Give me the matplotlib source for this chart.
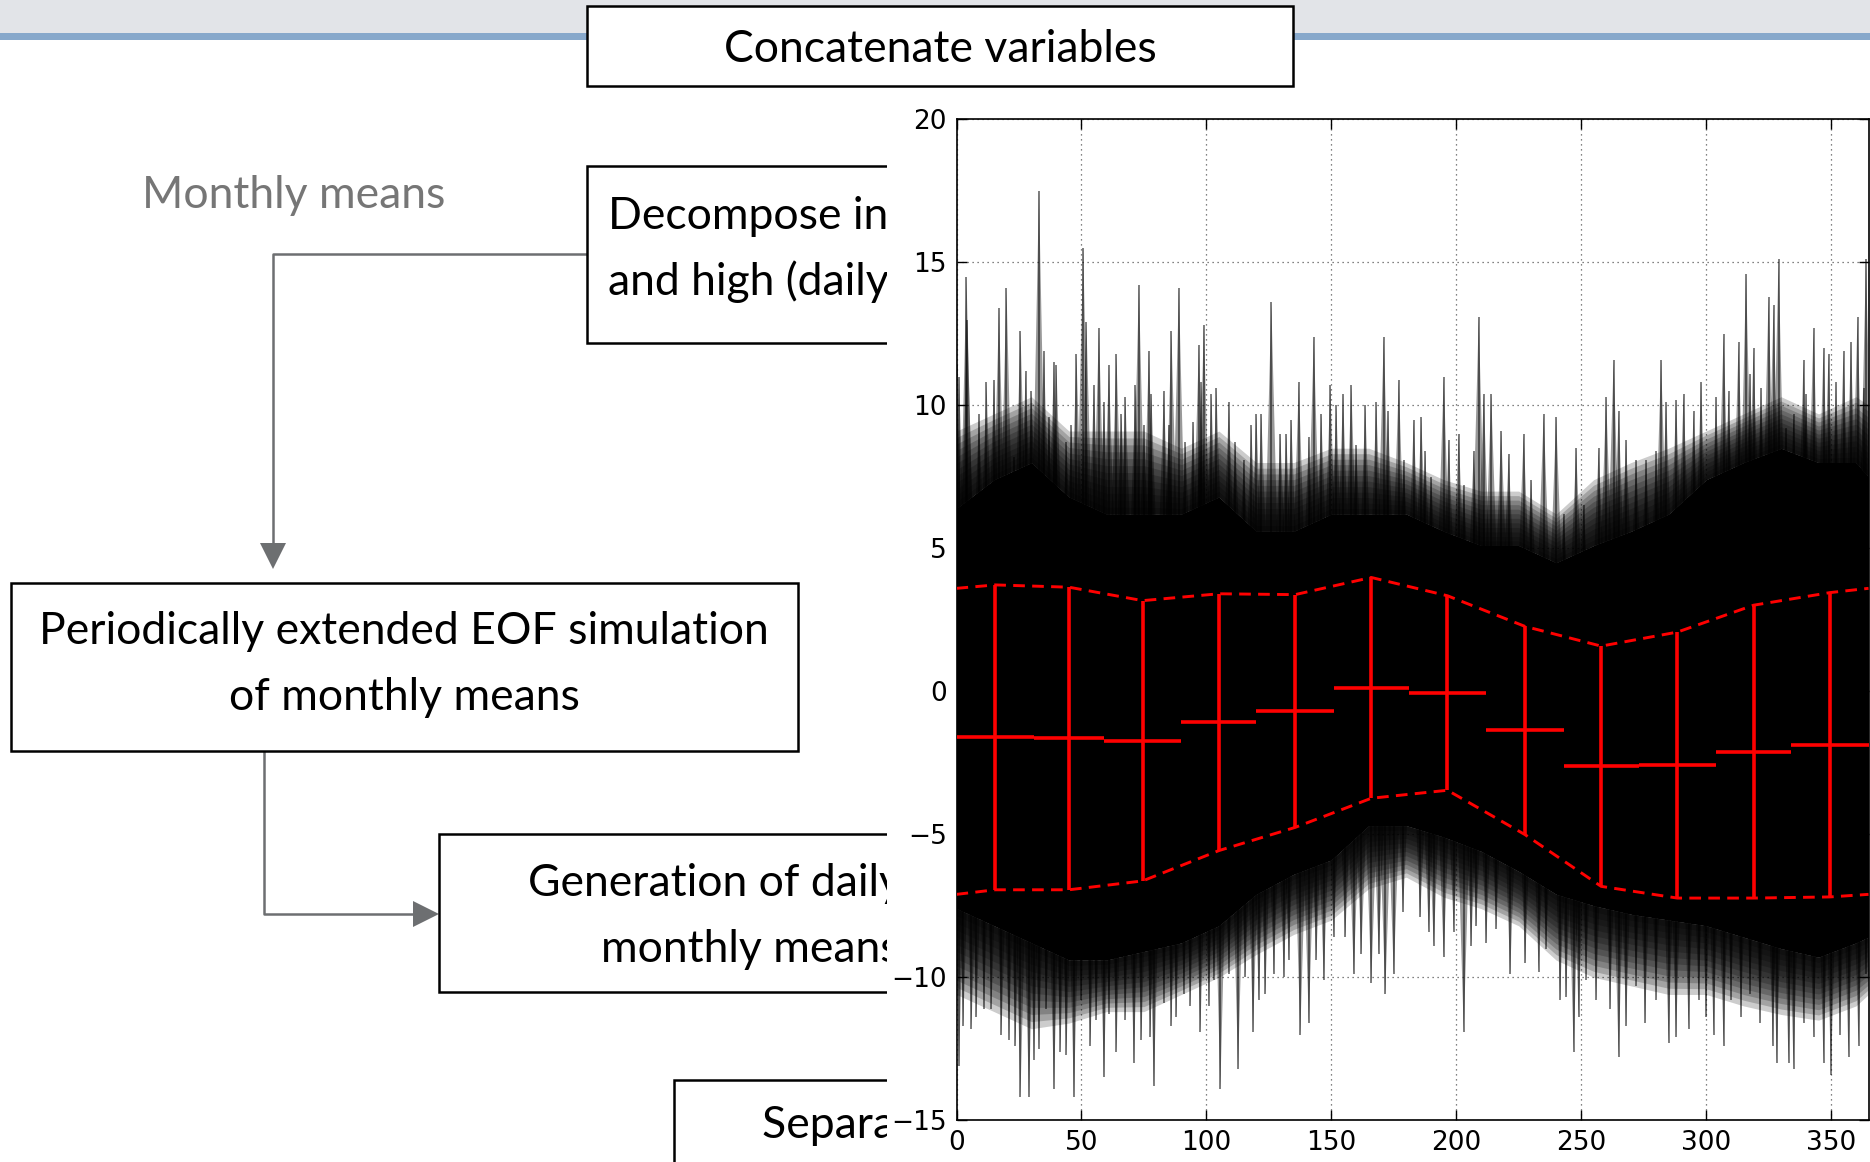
import matplotlib
matplotlib.use('Agg')
import matplotlib.pyplot as plt
from matplotlib.patches import Rectangle, Polygon
from matplotlib.collections import PolyCollection

W, H = 1870, 1162

# monthly statistics (red error bars)
month_edges = [0, 31, 59, 90, 120, 151, 181, 212, 243, 273, 304, 334, 365]
month_mean = [-1.61, -1.65, -1.73, -1.08, -0.69, 0.12, -0.06, -1.37, -2.62, -2.58, -2.11, -1.87]
month_err = [5.33, 5.29, 4.90, 4.49, 4.07, 3.86, 3.40, 3.64, 4.20, 4.65, 5.12, 5.32]
year_edge_upper = 3.6
year_edge_lower = -7.1

# envelope of the dense black mass of daily series
env_days = [0, 15, 30, 45, 60, 75, 90, 105, 120, 135, 150, 165, 180,
            195, 210, 225, 240, 255, 270, 285, 300, 315, 330, 345, 360, 365]
core_hi = [6.4, 7.4, 8.0, 6.8, 6.2, 6.2, 6.2, 6.8, 5.6, 5.6, 6.2, 6.2, 6.2,
           5.6, 5.1, 5.1, 4.5, 5.1, 5.6, 6.2, 7.4, 8.0, 8.5, 8.0, 8.0, 7.5]
haze_hi = [9.1, 9.7, 10.3, 9.1, 9.1, 9.1, 8.5, 9.1, 8.0, 8.0, 8.5, 8.5, 8.0,
           7.4, 7.0, 7.0, 6.2, 7.4, 8.0, 8.5, 9.1, 9.7, 10.3, 9.7, 10.3, 10.0]
core_lo = [-7.6, -8.2, -8.8, -9.4, -9.4, -9.1, -8.8, -8.2, -7.1, -6.4, -5.9, -4.7, -4.7,
           -5.1, -5.6, -6.3, -7.1, -7.5, -7.8, -8.0, -8.2, -8.6, -9.0, -9.3, -8.8, -8.6]
haze_lo = [-10.6, -11.2, -11.8, -11.6, -11.2, -11.2, -10.6, -10.0, -9.2, -8.5, -8.0, -6.9, -6.5,
           -7.2, -7.6, -8.2, -9.4, -10.0, -10.3, -10.6, -10.6, -11.0, -11.3, -11.5, -11.0, -10.6]

# individual spikes standing out of the mass
up_days = [0, 1, 4, 4.3, 9, 12, 15, 17, 20, 23, 25.6, 27.7, 30, 33, 35, 37, 39, 40, 44, 46,
           48, 50.7, 52, 55, 57, 59, 61, 64, 66, 67.6, 71.6, 73, 75, 77, 78, 83, 85, 86, 89, 91.6,
           94.7, 97, 98, 99, 102, 104, 109, 111.6, 115, 118, 120, 122, 126, 129.6, 132, 134, 137,
           141, 143, 146, 149.6, 152, 154.7, 158, 160, 163.6, 168, 171, 172.7, 177, 179, 183, 186,
           187.6, 190, 195, 197, 201, 203, 207, 209, 211, 214, 218, 221, 227, 230, 235, 240, 243,
           248, 251, 257, 260, 263, 265, 268, 272, 276, 280, 282, 284, 288, 291, 295, 298, 304,
           307, 309, 313, 316, 317.6, 319, 322, 325, 327, 329, 332, 335, 339, 340, 343, 347, 349,
           352, 355, 358, 360.6, 363, 364]
up_peaks = [11.4, 11.0, 14.5, 13.0, 9.7, 10.8, 10.9, 13.4, 14.1, 8.2, 12.6, 11.2, 10.5, 17.5, 11.9,
            9.6, 11.5, 11.4, 8.7, 9.3, 11.8, 15.5, 12.9, 10.7, 12.7, 10.1, 11.4, 11.8, 9.7, 10.3,
            10.7, 14.2, 9.3, 11.9, 10.4, 10.5, 9.3, 12.6, 14.1, 8.7, 9.4, 12.1, 10.8, 12.8, 10.4,
            10.6, 10.1, 8.7, 8.1, 9.3, 9.7, 9.7, 13.6, 9.0, 9.0, 9.5, 10.8, 8.9, 12.4, 9.7, 10.7,
            10.0, 10.4, 10.7, 8.6, 10.0, 10.1, 12.4, 9.8, 10.9, 8.1, 9.5, 9.6, 8.4, 7.5, 11.0, 8.8,
            9.0, 7.2, 8.4, 13.1, 10.4, 10.4, 9.1, 8.3, 9.0, 7.4, 9.7, 9.6, 6.2, 8.5, 6.5, 8.5, 10.3,
            11.6, 9.8, 8.8, 8.1, 8.1, 8.4, 11.6, 10.1, 10.2, 10.4, 9.8, 10.8, 10.3, 12.5, 10.5, 12.2,
            14.6, 11.1, 12.0, 10.6, 13.8, 13.5, 15.1, 9.2, 9.7, 11.6, 10.4, 12.7, 12.0, 11.8, 10.8,
            11.9, 12.2, 13.1, 10.6, 15.1]
dn_days = [1, 2.7, 6, 8, 11, 14, 18, 21, 23.6, 25.6, 29, 31, 33, 36, 39, 41.6, 44, 47, 50, 53.6,
           56, 59, 61, 64, 67.6, 71, 74, 77.6, 79, 83, 86, 88, 91, 93.6, 97.6, 101, 103, 105.6,
           109, 112.7, 115.6, 118.7, 121, 123.6, 127, 131, 133, 137.6, 141, 144, 147, 151, 155.6,
           159, 162, 166, 169, 171.6, 175, 178.7, 185.6, 189, 191, 195, 199, 203, 206, 208, 212,
           216, 221.6, 227.6, 233, 236, 241.6, 244, 247, 249, 252, 256, 261.6, 265, 268, 272,
           275.6, 280, 285, 288, 293, 297, 300, 303, 307, 310, 314, 317.6, 321.6, 326.7, 328.3,
           333, 335, 339, 343, 347, 350, 353.6, 357, 361, 364]
dn_troughs = [-13.1, -11.7, -11.8, -11.4, -11.1, -11.1, -12.0, -12.2, -12.4, -14.2, -14.2, -12.9,
              -12.5, -11.1, -13.9, -12.6, -12.7, -14.2, -10.8, -12.4, -11.5, -13.5, -11.3, -12.6,
              -11.5, -13.0, -12.2, -12.1, -13.8, -10.9, -11.7, -11.4, -10.6, -11.0, -11.9, -11.0,
              -10.1, -13.9, -9.9, -13.2, -10.0, -11.9, -10.8, -10.6, -9.9, -10.0, -9.4, -12.0,
              -11.6, -9.4, -10.1, -8.6, -8.6, -9.9, -9.2, -10.2, -9.2, -10.6, -9.9, -7.7, -7.9,
              -8.4, -8.9, -9.3, -8.4, -11.9, -8.9, -8.2, -8.8, -8.3, -9.9, -9.5, -9.8, -9.0, -10.8,
              -10.7, -12.6, -11.4, -10.1, -10.8, -11.1, -12.8, -11.7, -10.3, -11.6, -10.8, -12.3,
              -12.1, -11.8, -10.8, -11.4, -12.0, -12.4, -10.8, -11.4, -10.6, -11.6, -12.4, -13.0,
              -13.0, -13.2, -11.6, -12.1, -13.0, -13.4, -12.0, -12.8, -12.4, -9.9]

fig = plt.figure(figsize=(W / 100, H / 100), dpi=100)

# ---- slide in the background (pixel coordinates) ----
ax0 = fig.add_axes([0, 0, 1, 1])
ax0.set_xlim(0, W)
ax0.set_ylim(H, 0)
ax0.axis('off')

ax0.add_patch(Rectangle((0, 0), W, 34, color='#e2e4e8', lw=0))
ax0.add_patch(Rectangle((0, 33), W, 7, color='#87a8cb', lw=0))

slide_font = 'Lato'
fs = 32
grey = '#6d6f71'
dy = 4   # Lato sits a little high with va='center'


def box(x0, y0, x1, y1):
    ax0.add_patch(Rectangle((x0, y0), x1 - x0, y1 - y0, fc='white', ec='black', lw=1.8, zorder=3))


def label(x, y, s, ha='left', color='black'):
    ax0.text(x, y + dy, s, ha=ha, va='center', fontsize=fs, family=slide_font, color=color, zorder=4)


box(587, 6, 1293, 86)
label(940, 46, 'Concatenate variables', ha='center')

label(294, 191, 'Monthly means', ha='center', color='#767676')

box(587, 166, 1150, 343)
label(608, 212, 'Decompose into low (monthly)')
label(608, 278, 'and high (daily) frequencies')

box(11, 583, 798, 751)
label(404, 628, 'Periodically extended EOF simulation', ha='center')
label(404, 694, 'of monthly means', ha='center')

box(439, 834, 1150, 992)
label(528, 879, 'Generation of daily values from')
label(601, 945, 'monthly means')

box(674, 1080, 1150, 1200)
label(762, 1121, 'Separate variables')

# connectors
ax0.plot([587, 273, 273], [254, 254, 545], color=grey, lw=1.8, zorder=2)
ax0.add_patch(Polygon([[260, 543], [286, 543], [273, 569]], closed=True, color=grey, lw=0))
ax0.plot([264, 264, 415], [751, 914, 914], color=grey, lw=1.8, zorder=2)
ax0.add_patch(Polygon([[413, 901], [413, 927], [439, 914]], closed=True, color=grey, lw=0))

# white backdrop of the pasted plot
ax0.add_patch(Rectangle((887, 88), W - 887, H - 88, color='white', lw=0, zorder=10))

# ---- the plot ----
left, right, top, bottom = 956.5, 1868.5, 119.3, 1120.3
ax = fig.add_axes([left / W, 1 - bottom / H, (right - left) / W, (bottom - top) / H])
ax.set_zorder(2)

# fringe of the mass fades outwards
n_layers = 12
for k in range(1, n_layers + 1):
    f = k / n_layers
    hi = [c + (h - c) * f for c, h in zip(core_hi, haze_hi)]
    lo = [c + (h - c) * f for c, h in zip(core_lo, haze_lo)]
    ax.fill_between(env_days, core_hi, hi, color='black', alpha=0.2, lw=0, zorder=1)
    ax.fill_between(env_days, lo, core_lo, color='black', alpha=0.2, lw=0, zorder=1)

# spikes: narrow wedges (ragged edge) plus a thin line for the tip
hw = 4
wedges = [[(d - hw, 0), (d, p), (d + hw, 0)] for d, p in zip(up_days, up_peaks)]
wedges += [[(d - hw, 0), (d, p), (d + hw, 0)] for d, p in zip(dn_days, dn_troughs)]
ax.add_collection(PolyCollection(wedges, facecolors='black', edgecolors='none', alpha=0.4, zorder=2))
ax.vlines(up_days, 0, up_peaks, color='black', alpha=0.5, lw=1.4, zorder=2)
ax.vlines(dn_days, dn_troughs, 0, color='black', alpha=0.5, lw=1.4, zorder=2)
ax.fill_between(env_days, core_lo, core_hi, color='black', lw=0, zorder=3)

centres = [(a + b) / 2 for a, b in zip(month_edges[:-1], month_edges[1:])]
half = [(b - a) / 2 for a, b in zip(month_edges[:-1], month_edges[1:])]
ax.errorbar(centres, month_mean, yerr=month_err, xerr=half, fmt='none',
            ecolor='red', elinewidth=2.6, capsize=0, zorder=5)

band_x = [0] + centres + [365]
band_up = [year_edge_upper] + [m + e for m, e in zip(month_mean, month_err)] + [year_edge_upper]
band_dn = [year_edge_lower] + [m - e for m, e in zip(month_mean, month_err)] + [year_edge_lower]
ax.plot(band_x, band_up, color='red', lw=2.1, dashes=(4, 2.5), zorder=5)
ax.plot(band_x, band_dn, color='red', lw=2.1, dashes=(4, 2.5), zorder=5)

ax.set_xlim(0, 365)
ax.set_ylim(-15, 20)
ax.set_xticks(range(0, 351, 50))
ax.set_yticks(range(-15, 21, 5))
ax.grid(True, color='0.35', linestyle=(0, (1, 3)), lw=0.9)
ax.set_axisbelow(True)
ax.tick_params(direction='in', top=True, right=True, length=7, width=1, labelsize=19, pad=7)
for s in ax.spines.values():
    s.set_linewidth(1.2)

fig.savefig('out.png', dpi=100)
